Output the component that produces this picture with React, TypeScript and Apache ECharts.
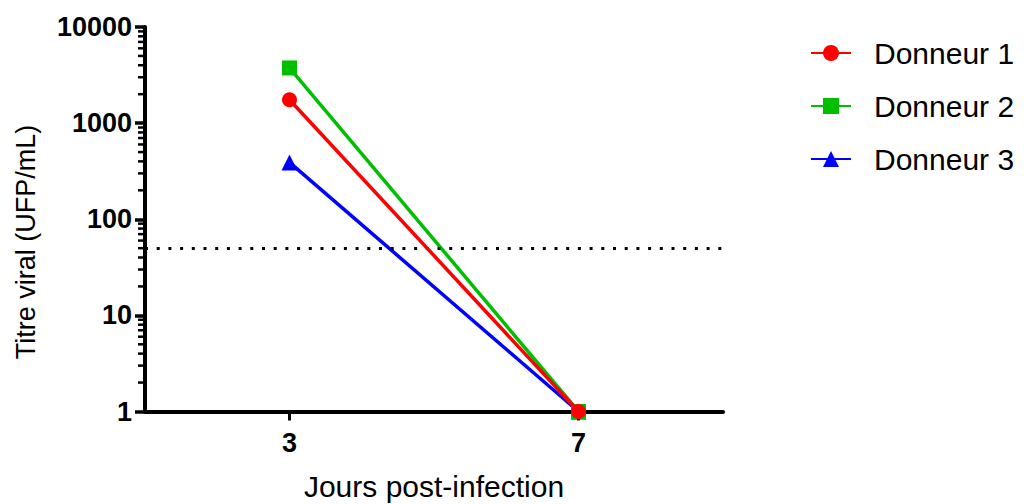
import React, { useEffect, useRef } from "react";
import * as echarts from "echarts";

const days = [3, 7];
const seriesNames = ["Donneur 1", "Donneur 2", "Donneur 3"];
const donneur1 = [1750, 1];
const donneur2 = [3750, 1];
const donneur3 = [390, 1];
const seuil = 50;
const xTicks = [3, 7];
const yMajorTicks = [1, 10, 100, 1000, 10000];
const yMinorMultipliers = [2, 3, 4, 5, 6, 7, 8, 9];
const colors = ["#FF0000", "#00BF00", "#0000FF"];
const symbols = ["circle", "rect", "triangle"];

const FONT = "'Liberation Sans', Arial, sans-serif";

export default function App() {
  const ref = useRef<HTMLDivElement>(null);
  useEffect(() => {
    if (!ref.current) return;
    const chart = echarts.init(ref.current, undefined, { renderer: "svg" });
    const minorTicks: number[] = [];
    yMajorTicks.slice(0, -1).forEach((d) => yMinorMultipliers.forEach((m) => minorTicks.push(d * m)));
    const allData = [donneur1, donneur2, donneur3];
    const series: any[] = allData.map((vals, i) => ({
      name: seriesNames[i],
      type: "line",
      data: days.map((d, j) => [d, vals[j]]),
      symbol: symbols[i],
      symbolSize: i === 2 ? 16 : 15,
      z: 5 - i,
      itemStyle: { color: colors[i] },
      lineStyle: { color: colors[i], width: 3.5 },
      emphasis: { disabled: true },
      ...(i === 0
        ? {
            markLine: {
              silent: true,
              symbol: "none",
              label: { show: false },
              lineStyle: { color: "#000", width: 3, type: [3, 8.7], cap: "butt" },
              data: [{ yAxis: seuil }],
            },
          }
        : {}),
    }));
    series.push({
      name: "minor",
      type: "custom",
      coordinateSystem: "cartesian2d",
      xAxisIndex: 0,
      yAxisIndex: 0,
      clip: false,
      z: 10,
      encode: { x: 0, y: 1 },
      data: minorTicks.map((v) => [1, v]),
      renderItem: (params: any, api: any) => {
        const p = api.coord([api.value(0), api.value(1)]);
        return {
          type: "line",
          shape: { x1: p[0] - 7, y1: p[1], x2: p[0], y2: p[1] },
          style: { stroke: "#000", lineWidth: 2.5 },
        };
      },
    });
    chart.setOption({
      animation: false,
      grid: { left: 145, right: 301, top: 27, bottom: 92.5, outerBoundsMode: "none", containLabel: false },
      legend: {
        orient: "vertical",
        left: 805,
        top: 33,
        itemWidth: 40,
        itemHeight: 20,
        itemGap: 23,
        data: seriesNames,
        textStyle: { fontFamily: FONT, fontSize: 30, color: "#000", padding: [0, 0, 0, 18] },
      },
      xAxis: {
        type: "value",
        min: 1,
        max: 9,
        splitLine: { show: false },
        axisLine: { show: true, lineStyle: { color: "#000", width: 4 } },
        axisTick: { show: true, customValues: xTicks, length: 9, lineStyle: { color: "#000", width: 3 } },
        axisLabel: {
          customValues: xTicks,
          margin: 18,
          fontFamily: FONT,
          fontSize: 27,
          fontWeight: "bold",
          color: "#000",
        },
        name: "Jours post-infection",
        nameLocation: "middle",
        nameGap: 60,
        nameTextStyle: { fontFamily: FONT, fontSize: 30, color: "#000" },
      },
      yAxis: {
        type: "log",
        logBase: 10,
        min: 1,
        max: 10000,
        splitLine: { show: false },
        axisLine: { show: true, lineStyle: { color: "#000", width: 4 } },
        axisTick: { show: true, customValues: yMajorTicks, length: 10, lineStyle: { color: "#000", width: 3.5 } },
        axisLabel: {
          customValues: yMajorTicks,
          formatter: (v: number) => String(Math.round(v)),
          margin: 13,
          fontFamily: FONT,
          fontSize: 27,
          fontWeight: "bold",
          color: "#000",
        },
      },
      graphic: [
        {
          type: "text",
          x: 26,
          y: 242,
          rotation: Math.PI / 2,
          style: {
            text: "Titre viral (UFP/mL)",
            fontFamily: FONT,
            fontSize: 27,
            fill: "#000",
            align: "center",
            verticalAlign: "middle",
          },
        },
      ],
      series,
    });
    return () => chart.dispose();
  }, []);
  return (
    <div
      ref={ref}
      style={{ position: "fixed", left: 0, top: 0, width: 1024, height: 504, background: "#fff" }}
    />
  );
}
